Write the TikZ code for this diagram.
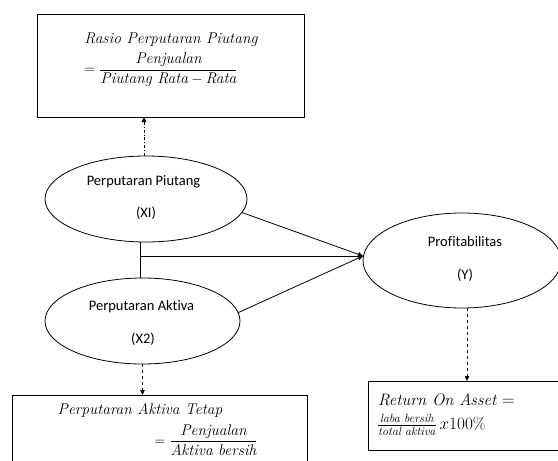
\documentclass[tikz,border=0pt]{standalone}
\usepackage{amsmath}
\usepackage{fontspec}
\newfontfamily\calib[Ligatures=NoCommon]{Carlito}
\usetikzlibrary{shapes.geometric,arrows.meta}
\begin{document}
\begin{tikzpicture}[x=1pt,y=-1pt,
  every node/.style={inner sep=0pt,outer sep=0pt},
  oval/.style={draw,ellipse,line width=0.8pt},
  frame/.style={draw,rectangle,line width=0.8pt},
  lab/.style={font=\calib\fontsize{14.5}{17}\selectfont},
  frm/.style={font=\fontsize{15.5}{18}\selectfont},
  frmbig/.style={font=\fontsize{16.5}{19}\selectfont},
  link/.style={line width=0.8pt},
  tip/.style={-{Triangle[length=5pt,width=4.5pt]}}
]
\useasboundingbox (0,0) rectangle (558,461);
% boxes
\node[frame,minimum width=267pt,minimum height=103pt] (top) at (170.5,65.5) {};
\node[frame,minimum width=295pt,minimum height=105pt] (bl) at (159.5,447.5) {};
\node[frame,minimum width=232pt,minimum height=69pt] (br) at (484,415.5) {};
% ellipses
\node[oval,minimum width=202pt,minimum height=86pt] (e1) at (146,199) {};
\node[oval,minimum width=195pt,minimum height=86pt] (e2) at (142.5,321) {};
\node[oval,minimum width=198pt,minimum height=95pt] (ey) at (462,260.5) {};
% ellipse texts
\node[lab] (l1a) at (143.5,182) {Perputaran Piutang};
\node[lab] (l1b) at (146,213) {(XI)};
\node[lab] (l2a) at (141.5,307) {Perputaran Aktiva};
\node[lab] (l2b) at (143,339) {(X2)};
\node[lab] (lya) at (465,242) {Profitabilitas};
\node[lab] (lyb) at (465,275) {(Y)};
% formula texts
\node[frm] (t1) at (171,40) {\itshape Rasio Perputaran Piutang};
\node[frm] (t2) at (161,70) {$=\dfrac{\textit{Penjualan}}{\textit{Piutang Rata}-\textit{Rata}}$};
\node[frm] (t3) at (140,410) {\itshape Perputaran Aktiva Tetap};
\node[frm] (t4) at (206,440) {$=\dfrac{\textit{Penjualan}}{\textit{Aktiva bersih}}$};
\node[frmbig,anchor=west] (t5) at (378,399.5) {\textit{Return On Asset} $=$};
\node[frmbig,anchor=west] (t6) at (377,425) {$\frac{\mbox{\fontsize{12}{14}\selectfont\itshape laba bersih}}{\mbox{\fontsize{12}{14}\selectfont\itshape total aktiva}}\,x100\%$};
% connectors
\coordinate (jn) at (140,256);
\coordinate (hub) at (jn -| ey.west);
\draw[link] (jn |- e1.south) -- (jn |- e2.north);
\draw[link,tip] (jn) -- (hub);
\draw[link,tip] (e1.-8) -- (hub);
\draw[link,tip] (e2.5) -- (hub);
\draw[link,dashdotted,tip] ([xshift=-2pt]e1.north) -- ([xshift=-2pt]e1.north |- top.south);
\draw[link,dashed,tip] (e2.south) -- (e2.south |- bl.north);
\draw[link,dashed,tip] ([xshift=5pt]ey.south) -- ([xshift=5pt]ey.south |- br.north);
\end{tikzpicture}
\end{document}
